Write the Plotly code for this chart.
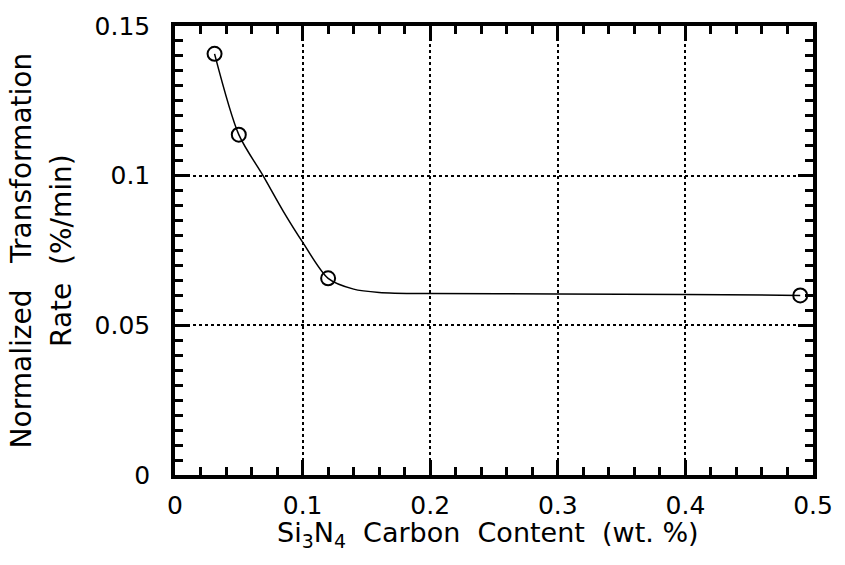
import plotly.graph_objects as go

# Measured transformation rates
carbon_wt = [0.031, 0.050, 0.120, 0.490]
rate = [0.1407, 0.1137, 0.0657, 0.0600]

# Hand-drawn guide curve through the measurements
curve_x = [0.031, 0.050, 0.069, 0.085, 0.100, 0.120, 0.140, 0.160, 0.200, 0.300, 0.400, 0.490]
curve_y = [0.1407, 0.1137, 0.1000, 0.0880, 0.0778, 0.0657, 0.0621, 0.0610, 0.0606, 0.0605, 0.0603, 0.0600]

x_ticks = [0, 0.1, 0.2, 0.3, 0.4, 0.5]
x_tick_text = ["0", "0.1", "0.2", "0.3", "0.4", "0.5"]
y_ticks = [0, 0.05, 0.1, 0.15]
y_tick_text = ["0", "0.05", "0.1", "0.15"]

FONT = "DejaVu Sans"

fig = go.Figure()
fig.add_trace(go.Scatter(
    x=curve_x, y=curve_y, mode="lines",
    line=dict(color="black", width=1.5, shape="spline", smoothing=0.8),
    hoverinfo="skip", showlegend=False,
))
fig.add_trace(go.Scatter(
    x=carbon_wt, y=rate, mode="markers",
    marker=dict(symbol="circle-open", size=14, color="black", line=dict(width=2, color="black")),
    showlegend=False,
))

axis_common = dict(
    showline=True, linecolor="black", linewidth=3.5, mirror="allticks",
    ticks="inside", ticklen=15, tickwidth=2.5, tickcolor="black",
    showgrid=True, gridcolor="black", gridwidth=1.5, griddash="dot",
    zeroline=False,
    tickfont=dict(family=FONT, size=25, color="black"),
)

fig.update_xaxes(
    range=[0, 0.5], tickvals=x_ticks, ticktext=x_tick_text,
    minor=dict(dtick=0.02, ticks="inside", ticklen=8, tickwidth=2.5, tickcolor="black", showgrid=False),
    ticklabelstandoff=5,
    **axis_common,
)
fig.update_yaxes(
    range=[0, 0.15], tickvals=y_ticks, ticktext=y_tick_text,
    minor=dict(dtick=0.005, ticks="inside", ticklen=8, tickwidth=2.5, tickcolor="black", showgrid=False),
    ticklabelstandoff=16,
    **axis_common,
)

title_font = dict(family=FONT, size=28, color="black")
fig.add_annotation(
    text="Normalized   Transformation", textangle=-90, showarrow=False,
    xref="paper", yref="paper", x=-0.240, y=0.5,
    xanchor="center", yanchor="middle", font=title_font,
)
fig.add_annotation(
    text="Rate  (%/min)", textangle=-90, showarrow=False,
    xref="paper", yref="paper", x=-0.178, y=0.5,
    xanchor="center", yanchor="middle", font=title_font,
)
fig.add_annotation(
    text="Si<sub>3</sub>N<sub>4</sub>  Carbon  Content  (wt. %)", showarrow=False,
    xref="paper", yref="paper", x=0.49, y=-0.133,
    xanchor="center", yanchor="middle", font=dict(family=FONT, size=27, color="black"),
)

fig.update_layout(
    width=845, height=565,
    margin=dict(l=175, r=29, t=20, b=90),
    paper_bgcolor="white", plot_bgcolor="white",
)

fig.write_html("out.html")
